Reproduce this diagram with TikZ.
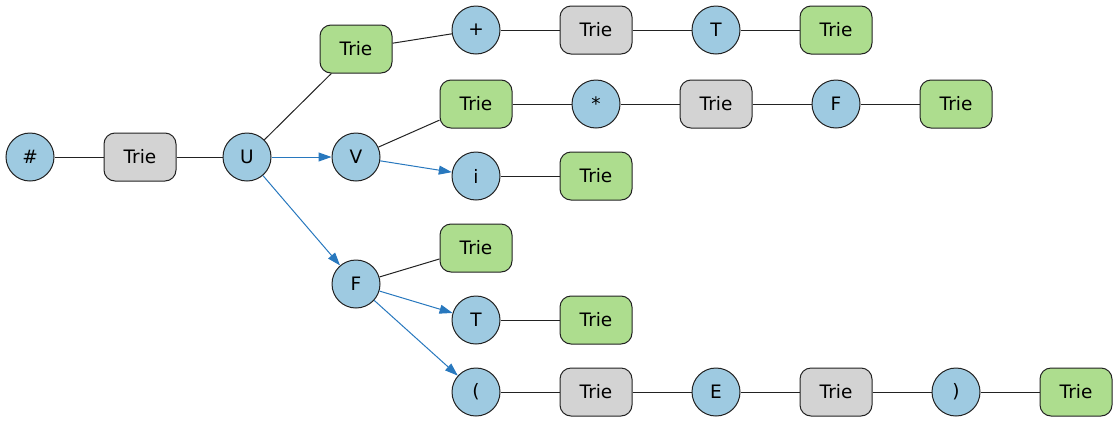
\documentclass[tikz,border=0pt]{standalone}
\usepackage{fontspec}
\setmainfont{DejaVu Sans}
\usetikzlibrary{arrows.meta}
\definecolor{cblue}{HTML}{9ECAE1}
\definecolor{cgreen}{HTML}{ADDD8E}
\definecolor{cgray}{HTML}{D3D3D3}
\definecolor{carrow}{HTML}{2878BE}
\definecolor{cline}{HTML}{222222}
\begin{document}
\begin{tikzpicture}[x=1pt,y=-1pt,
  every node/.style={font=\fontsize{18.5}{20}\selectfont, text=black, draw=cline, line width=1pt, inner sep=0pt},
  sym/.style={circle, fill=cblue, minimum size=48pt},
  gtrie/.style={rectangle, rounded corners=11pt, fill=cgray, minimum width=72pt, minimum height=48pt},
  ltrie/.style={rectangle, rounded corners=11pt, fill=cgreen, minimum width=72pt, minimum height=48pt},
  edge/.style={draw=cline, line width=1pt},
  arr/.style={draw=carrow, line width=1pt, -{Triangle[length=13pt,width=9pt]}}
]
\useasboundingbox (0,0) rectangle (1117,421);
% nodes
\node[sym] (hash) at (30,157) {\#};
\node[gtrie] (t0) at (140,157) {Trie};
\node[sym] (U) at (247,157) {U};
\node[ltrie] (t1) at (356,49) {Trie};
\node[sym] (V) at (356,157) {V};
\node[sym] (F1) at (356,284) {F};
% row 1
\node[sym] (plus) at (476,30) {+};
\node[gtrie] (t2) at (596,30) {Trie};
\node[sym] (T1) at (716,30) {T};
\node[ltrie] (t3) at (836,30) {Trie};
% row 2
\node[ltrie] (t4) at (476,104) {Trie};
\node[sym] (star) at (596,104) {*};
\node[gtrie] (t5) at (716,104) {Trie};
\node[sym] (F2) at (836,104) {F};
\node[ltrie] (t6) at (956,104) {Trie};
% row 3
\node[sym] (i) at (476,176) {i};
\node[ltrie] (t7) at (596,176) {Trie};
% row 4
\node[ltrie] (t8) at (476,248) {Trie};
% row 5
\node[sym] (T2) at (476,320) {T};
\node[ltrie] (t9) at (596,320) {Trie};
% row 6
\node[sym] (lp) at (476,392) {(};
\node[gtrie] (t10) at (596,392) {Trie};
\node[sym] (E) at (716,392) {E};
\node[gtrie] (t11) at (836,392) {Trie};
\node[sym] (rp) at (956,392) {)};
\node[ltrie] (t12) at (1076,392) {Trie};
% edges
\draw[edge] (hash) -- (t0);
\draw[edge] (t0) -- (U);
\draw[edge] (U) -- (t1);
\draw[edge] (t1) -- (plus);
\draw[edge] (plus) -- (t2);
\draw[edge] (t2) -- (T1);
\draw[edge] (T1) -- (t3);
\draw[edge] (V) -- (t4);
\draw[edge] (t4) -- (star);
\draw[edge] (star) -- (t5);
\draw[edge] (t5) -- (F2);
\draw[edge] (F2) -- (t6);
\draw[edge] (i) -- (t7);
\draw[edge] (F1) -- (t8);
\draw[edge] (T2) -- (t9);
\draw[edge] (lp) -- (t10);
\draw[edge] (t10) -- (E);
\draw[edge] (E) -- (t11);
\draw[edge] (t11) -- (rp);
\draw[edge] (rp) -- (t12);
\draw[arr] (U) -- (V);
\draw[arr] (U) -- (F1);
\draw[arr] (V) -- (i);
\draw[arr] (F1) -- (T2);
\draw[arr] (F1) -- (lp);
\end{tikzpicture}
\end{document}
